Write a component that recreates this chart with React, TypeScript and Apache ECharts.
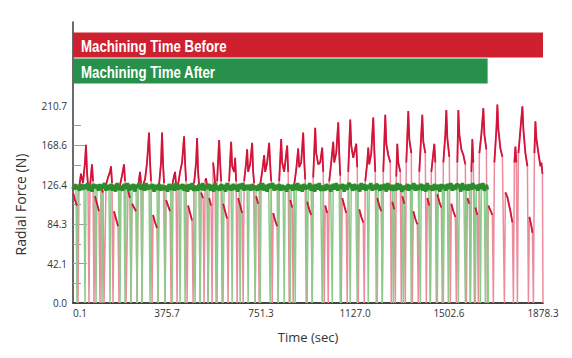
import React, { useEffect, useRef } from 'react';
import * as echarts from 'echarts';

const barLabels = ['Machining Time Before', 'Machining Time After'];
const barValues = [1878.3, 1657];
const xTickLabels = [0.1, 375.7, 751.3, 1127.0, 1502.6, 1878.3];
const yTickLabels = [0, 42.14, 84.28, 126.42, 168.56, 210.7];
const yMajorTicks = [42.14, 84.28, 126.42, 168.56];
const yMinorTicks = [21.07, 63.21, 105.35, 147.49, 189.63];

// Radial force, machining before (time s, force N)
const redBefore: [number, number][] = [
  [0.1, 118], [8, 110], [16, 104], [20, 0], [24, 122], [32, 138], [40, 128], [48, 150], [52, 169], [56, 140], [60, 126], [64, 0],
  [68, 124], [76, 148], [80, 130], [84, 0], [88, 114], [96, 106], [104, 98], [108, 0], [112, 124], [120, 118], [124, 0],
  [132, 126], [140, 134], [148, 140], [152, 146], [156, 128], [160, 0], [164, 98], [172, 90], [180, 82], [184, 0],
  [188, 126], [196, 136], [204, 148], [208, 130], [212, 0], [220, 120], [228, 112], [232, 0], [236, 106], [244, 102], [252, 98], [256, 0],
  [260, 124], [268, 140], [272, 128], [276, 0], [280, 126], [288, 132], [296, 150], [304, 182], [308, 150], [312, 130], [316, 0],
  [320, 94], [328, 86], [336, 80], [340, 0], [344, 126], [352, 150], [356, 182], [360, 148], [364, 128], [368, 0],
  [372, 110], [380, 104], [388, 98], [392, 0], [396, 124], [404, 136], [408, 140], [412, 126], [416, 0],
  [420, 126], [428, 140], [436, 150], [444, 178], [448, 150], [452, 130], [456, 0], [460, 104], [468, 96], [476, 88], [480, 0],
  [484, 128], [492, 150], [496, 176], [500, 140], [504, 126], [508, 0], [512, 118], [520, 112], [524, 0],
  [528, 130], [532, 133], [536, 124], [540, 0], [544, 112], [552, 104], [556, 0], [560, 150], [564, 140], [568, 128], [572, 0],
  [576, 130], [584, 174], [588, 150], [592, 130], [596, 0], [600, 106], [608, 98], [616, 90], [620, 0],
  [624, 130], [632, 172], [636, 146], [644, 140], [648, 155], [652, 130], [656, 0], [660, 112], [668, 104], [676, 96], [680, 0],
  [684, 130], [692, 150], [696, 164], [700, 140], [708, 148], [716, 171], [720, 140], [724, 128], [728, 0],
  [732, 114], [740, 106], [744, 0], [748, 126], [756, 140], [764, 158], [768, 140], [776, 150], [784, 171], [788, 148], [792, 130], [796, 0],
  [800, 96], [808, 88], [816, 82], [820, 0], [824, 130], [832, 175], [836, 150], [844, 140], [856, 168], [860, 140], [864, 0],
  [868, 110], [876, 102], [880, 0], [884, 126], [892, 142], [900, 165], [904, 145], [912, 150], [920, 182], [924, 152], [928, 132], [932, 0],
  [936, 108], [944, 100], [952, 94], [956, 0], [960, 134], [968, 187], [972, 160], [980, 148], [988, 150], [996, 166], [1000, 140], [1004, 0],
  [1008, 104], [1016, 96], [1020, 0], [1024, 130], [1032, 150], [1040, 172], [1044, 150], [1052, 160], [1060, 193], [1064, 160], [1068, 136], [1072, 0],
  [1076, 112], [1084, 104], [1092, 96], [1096, 0], [1100, 140], [1108, 196], [1112, 168], [1120, 155], [1132, 170], [1136, 145], [1140, 0],
  [1144, 100], [1152, 92], [1160, 86], [1164, 0], [1168, 130], [1176, 150], [1180, 166], [1184, 148], [1192, 160], [1200, 198], [1204, 165], [1208, 140], [1212, 0],
  [1216, 112], [1224, 104], [1232, 98], [1236, 0], [1240, 140], [1248, 201], [1252, 170], [1260, 158], [1268, 150], [1272, 0],
  [1276, 108], [1284, 100], [1288, 0], [1292, 135], [1296, 170], [1300, 150], [1308, 140], [1312, 0], [1316, 114], [1324, 106], [1328, 0],
  [1332, 150], [1340, 205], [1344, 175], [1352, 160], [1356, 0], [1360, 98], [1368, 90], [1376, 84], [1380, 0],
  [1384, 140], [1396, 201], [1400, 172], [1408, 160], [1412, 0], [1416, 112], [1424, 104], [1428, 0],
  [1432, 140], [1440, 160], [1444, 170], [1448, 150], [1452, 0], [1456, 116], [1464, 108], [1472, 102], [1476, 0],
  [1480, 150], [1488, 180], [1492, 206], [1496, 176], [1504, 156], [1508, 0], [1512, 106], [1520, 98], [1528, 92], [1532, 0],
  [1536, 150], [1540, 206], [1544, 180], [1552, 164], [1560, 158], [1568, 148], [1572, 0], [1576, 112], [1584, 106], [1588, 0],
  [1592, 140], [1596, 175], [1600, 150], [1604, 0], [1608, 102], [1616, 94], [1620, 0],
  [1624, 160], [1632, 180], [1640, 208], [1644, 180], [1652, 164], [1656, 0], [1660, 104], [1668, 99], [1676, 94], [1680, 0],
  [1684, 150], [1692, 185], [1696, 212], [1700, 185], [1708, 165], [1716, 156], [1724, 0], [1728, 118], [1736, 113], [1748, 98], [1756, 86], [1760, 0],
  [1764, 150], [1768, 167], [1772, 150], [1776, 0], [1780, 160], [1788, 185], [1796, 210], [1800, 185], [1808, 160], [1816, 146], [1820, 0],
  [1824, 92], [1832, 82], [1836, 75], [1840, 0], [1844, 160], [1848, 194], [1852, 175], [1860, 160], [1868, 146], [1872, 150], [1876, 138], [1878.3, 0],
];

// Radial force, machining after (time s, force N)
const greenAfter: [number, number][] = [
  [0.1, 124], [4, 121], [8, 127], [12, 122], [16, 0],
  [20, 125], [26, 120], [32, 127], [38, 121], [44, 126], [48, 0],
  [52, 122], [58, 128], [64, 120], [70, 126], [76, 119], [82, 127], [88, 123], [92, 0],
  [96, 126], [102, 120], [108, 127], [112, 122], [116, 0],
  [120, 124], [126, 128], [132, 120], [138, 126], [144, 121], [148, 0],
  [152, 127], [158, 120], [164, 126], [170, 119], [176, 128], [182, 121], [188, 0],
  [192, 125], [198, 120], [204, 127], [208, 0],
  [212, 122], [218, 128], [224, 120], [228, 126], [232, 0],
  [236, 121], [242, 127], [248, 119], [252, 126], [256, 0],
  [260, 123], [266, 128], [272, 121], [276, 0],
  [280, 126], [286, 120], [292, 128], [298, 121], [304, 126], [308, 0],
  [312, 122], [318, 127], [324, 119], [330, 126], [336, 121], [340, 0],
  [344, 127], [350, 120], [356, 126], [362, 121], [368, 0],
  [372, 125], [378, 119], [384, 127], [390, 121], [396, 0],
  [400, 126], [406, 120], [412, 128], [418, 121], [424, 126], [428, 0],
  [432, 122], [438, 127], [444, 120], [448, 0],
  [452, 126], [458, 119], [464, 127], [470, 121], [476, 128], [482, 120], [488, 0],
  [492, 125], [498, 120], [504, 127], [508, 0],
  [512, 121], [518, 128], [524, 120], [530, 126], [536, 122], [540, 0],
  [544, 127], [550, 120], [556, 126], [562, 119], [568, 128], [572, 121], [576, 0],
  [580, 125], [586, 120], [592, 127], [596, 121], [600, 0],
  [604, 126], [610, 119], [616, 128], [622, 121], [628, 126], [632, 120], [636, 0],
  [640, 127], [646, 121], [652, 126], [658, 119], [664, 127], [668, 0],
  [672, 122], [678, 128], [684, 120], [690, 126], [696, 121], [700, 0],
  [704, 126], [710, 120], [716, 127], [722, 121], [728, 0],
  [732, 125], [738, 120], [744, 127], [748, 0],
  [752, 121], [758, 128], [764, 120], [770, 126], [776, 119], [782, 127], [788, 0],
  [792, 123], [798, 128], [804, 120], [810, 126], [816, 121], [820, 0],
  [824, 127], [830, 120], [836, 126], [840, 121], [844, 0],
  [848, 125], [854, 119], [860, 127], [864, 122], [868, 0],
  [872, 126], [878, 120], [884, 127], [888, 0],
  [892, 121], [898, 128], [904, 120], [910, 126], [916, 119], [922, 127], [928, 121], [932, 126], [936, 0],
  [940, 122], [946, 128], [952, 120], [956, 0],
  [960, 126], [966, 119], [972, 127], [978, 121], [984, 128], [990, 120], [996, 0],
  [1000, 125], [1006, 120], [1012, 127], [1018, 121], [1024, 126], [1030, 119], [1036, 0],
  [1040, 127], [1046, 121], [1052, 128], [1058, 120], [1064, 126], [1068, 0],
  [1072, 122], [1078, 127], [1084, 119], [1090, 126], [1096, 121], [1102, 128], [1108, 0],
  [1112, 125], [1118, 120], [1124, 127], [1130, 121], [1136, 0],
  [1140, 126], [1146, 119], [1152, 128], [1158, 121], [1164, 127], [1170, 120], [1176, 126], [1180, 0],
  [1184, 122], [1190, 128], [1196, 120], [1202, 126], [1208, 121], [1212, 127], [1216, 0],
  [1220, 125], [1226, 120], [1232, 126], [1236, 0],
  [1240, 121], [1246, 127], [1252, 119], [1258, 128], [1264, 121], [1270, 126], [1276, 120], [1280, 0],
  [1284, 126], [1290, 120], [1296, 128], [1302, 121], [1308, 127], [1314, 119], [1320, 0],
  [1324, 125], [1330, 121], [1336, 127], [1342, 120], [1348, 126], [1352, 0],
  [1356, 122], [1362, 128], [1368, 120], [1374, 126], [1380, 121], [1388, 0],
  [1392, 127], [1398, 120], [1404, 126], [1410, 119], [1416, 128], [1422, 121], [1428, 0],
  [1432, 125], [1438, 120], [1444, 127], [1450, 121], [1456, 0],
  [1460, 126], [1466, 119], [1472, 127], [1476, 122], [1480, 0],
  [1484, 126], [1490, 120], [1496, 127], [1500, 0],
  [1504, 122], [1510, 128], [1516, 120], [1522, 126], [1528, 121], [1534, 127], [1540, 0],
  [1544, 125], [1550, 119], [1556, 128], [1562, 121], [1568, 0],
  [1572, 126], [1578, 120], [1584, 127], [1588, 0],
  [1592, 121], [1598, 128], [1604, 122], [1608, 0],
  [1612, 126], [1618, 120], [1624, 127], [1628, 0],
  [1632, 122], [1638, 128], [1644, 120], [1648, 0],
  [1652, 126], [1656, 121], [1660, 0],
];

export default function App() {
  const ref = useRef<HTMLDivElement>(null);
  useEffect(() => {
    const chart = echarts.init(ref.current!, null, { renderer: 'svg' });
    const font = "'Open Sans', 'Noto Sans', sans-serif";
    const redDense = redBefore.map(([t, v]) => (v === 0 ? [t, '-'] : [t, v]));
    const greenDense = greenAfter.filter(([, v]) => v > 0);
    const barColors = ['#cf202f', '#27904a'];
    const labelY = [46, 72];
    chart.setOption({
      animation: false,
      backgroundColor: '#ffffff',
      grid: [
        { left: 73, right: 29, top: 22, bottom: 55 },
        { left: 73, right: 29, top: 32, height: 52 },
      ],
      xAxis: [
        {
          gridIndex: 0, type: 'value', min: 0.1, max: 1878.3,
          name: 'Time (sec)', nameLocation: 'middle', nameGap: 27,
          nameTextStyle: { fontSize: 13, color: '#333', fontFamily: font },
          axisLine: { show: true, onZero: false, lineStyle: { color: '#444', width: 2 } },
          axisTick: { show: false }, splitLine: { show: false },
          axisLabel: {
            customValues: xTickLabels, formatter: (v: number) => v.toFixed(1),
            fontSize: 10, color: '#333', fontFamily: font, margin: 5, alignMinLabel: 'left',
          },
        },
        { gridIndex: 1, type: 'value', min: 0.1, max: 1878.3, show: false },
      ],
      yAxis: [
        {
          gridIndex: 0, type: 'value', min: 0, max: 300, position: 'left',
          name: 'Radial Force (N)', nameLocation: 'middle', nameRotate: 90, nameGap: 46,
          nameTextStyle: { fontSize: 14, color: '#333', fontFamily: font, padding: [0, 84, 0, 0] },
          axisLine: { show: true, onZero: false, lineStyle: { color: '#3a3a3a', width: 1.5 } },
          axisTick: { show: true, inside: true, length: 14, customValues: yMajorTicks, lineStyle: { color: '#9a9a9a' } },
          axisLabel: {
            customValues: yTickLabels, formatter: (v: number) => v.toFixed(1),
            fontSize: 10, color: '#333', fontFamily: font, margin: 6,
          },
          splitLine: { show: false },
        },
        {
          gridIndex: 0, type: 'value', min: 0, max: 300, position: 'left', offset: 0,
          axisLine: { show: false, onZero: false },
          axisLabel: { show: false },
          axisTick: { show: true, inside: true, length: 8, customValues: yMinorTicks, lineStyle: { color: '#9a9a9a' } },
          splitLine: { show: false },
        },
        { gridIndex: 1, type: 'category', data: barLabels, inverse: true, show: false },
      ],
      graphic: barLabels.map((text, i) => ({
        type: 'text', x: 81, y: labelY[i], scaleX: 0.78, z: 100, silent: true,
        style: {
          text, fill: '#ffffff', fontSize: 17, fontWeight: 'bold',
          fontFamily: "'Liberation Sans', Arial, sans-serif", verticalAlign: 'middle', align: 'left',
        },
      })),
      series: [
        {
          type: 'line', xAxisIndex: 0, yAxisIndex: 0, data: redBefore, symbol: 'none',
          lineStyle: { color: '#ec8b9c', width: 1.5 }, silent: true,
        },
        {
          type: 'line', xAxisIndex: 0, yAxisIndex: 0, data: greenAfter, symbol: 'none',
          lineStyle: { color: '#8ccb8c', width: 1.5 }, silent: true,
        },
        {
          type: 'line', xAxisIndex: 0, yAxisIndex: 0, data: redDense, symbol: 'none', connectNulls: false,
          lineStyle: { color: '#d2143a', width: 1.8 }, silent: true,
        },
        {
          type: 'line', xAxisIndex: 0, yAxisIndex: 0, data: greenDense, symbol: 'none',
          lineStyle: { color: '#2b8d2b', width: 3.5 }, silent: true,
        },
        {
          type: 'bar', xAxisIndex: 1, yAxisIndex: 2, barWidth: 25, silent: true,
          data: barValues.map((v, i) => ({ value: v, itemStyle: { color: barColors[i] } })),
          label: { show: false },
        },
      ],
    });
    return () => chart.dispose();
  }, []);
  return <div ref={ref} style={{ position: 'fixed', left: 0, top: 0, width: 572, height: 358 }} />;
}
